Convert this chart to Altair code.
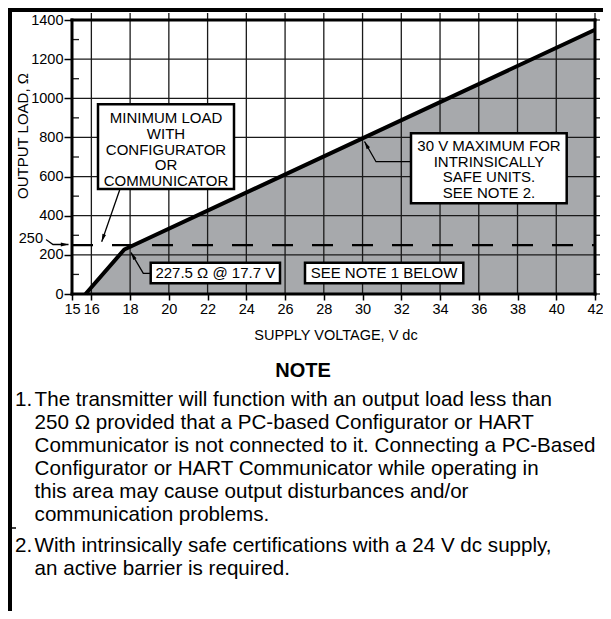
import math
import altair as alt
import pandas as pd

# ---------------- data ----------------
VOLTAGE = [15.7, 17.7, 42.0]          # V dc, corners of the operating-region boundary
LOAD = [0.0, 227.5, 1350.0]           # ohms
X_TICKS = [15, 16, 18, 20, 22, 24, 26, 28, 30, 32, 34, 36, 38, 40, 42]
Y_TICKS = [0, 200, 400, 600, 800, 1000, 1200, 1400]
Y_MINOR = [100, 300, 500, 700, 900, 1100, 1300]
MIN_LOAD = 250
X_TITLE = "SUPPLY VOLTAGE, V dc"
Y_TITLE = "OUTPUT LOAD, Ω"
LABEL_250 = "250"
BOX1_LINES = ["MINIMUM LOAD", "WITH", "CONFIGURATOR", "OR", "COMMUNICATOR"]
BOX2_LINES = ["30 V MAXIMUM FOR", "INTRINSICALLY", "SAFE UNITS.", " SEE NOTE 2."]
BOX3_LINES = ["227.5 Ω @ 17.7 V"]
BOX4_LINES = ["SEE NOTE 1 BELOW"]
NOTE_HEAD = "NOTE"
NOTE1_NUM = "1."
NOTE1_LINES = [
    "The transmitter will function with an output load less than",
    "250 Ω provided that a PC-based Configurator or HART",
    "Communicator is not connected to it. Connecting a PC-Based",
    "Configurator or HART Communicator while operating in",
    "this area may cause output disturbances and/or",
    "communication problems.",
]
NOTE2_NUM = "2."
NOTE2_LINES = [
    "With intrinsically safe certifications with a 24 V dc supply,",
    "an active barrier is required.",
]

# ---------------- layout ----------------
W, H = 523, 274
LEFT, TOP = 72, 20          # page position of the plot origin
X0, X1 = 15, 42
Y0, Y1 = 0, 1400
FONT = "Liberation Sans"
GRID = "#1a1a1a"
FILL = "#a7a9ac"


def dx(px):
    return X0 + (px - LEFT) * (X1 - X0) / W


def dy(py):
    return Y0 + (TOP + H - py) * (Y1 - Y0) / H


XS = alt.Scale(domain=[X0, X1], nice=False, zero=False)
YS = alt.Scale(domain=[Y0, Y1], nice=False, zero=False)
X_AXIS = alt.Axis(values=X_TICKS, title=None, domain=False, grid=False,
                  tickSize=6, tickWidth=1.5, tickColor="black",
                  labelFont=FONT, labelFontSize=14.5, labelColor="black",
                  labelPadding=2, labelFlush=False, labelOverlap=False)
Y_AXIS = alt.Axis(values=Y_TICKS, title=None, domain=False, grid=False,
                  format="d", tickSize=8, tickWidth=1.5, tickColor="black",
                  labelFont=FONT, labelFontSize=14.5, labelColor="black",
                  labelPadding=1, labelOverlap=False)


def X(f):
    return alt.X(f, type="quantitative", scale=XS, axis=X_AXIS)


def Y(f):
    return alt.Y(f, type="quantitative", scale=YS, axis=Y_AXIS)


def seg_layer(rows, **kw):
    df = pd.DataFrame(rows, columns=["x", "y", "x2", "y2"])
    return alt.Chart(df).mark_rule(**kw).encode(
        x=X("x"), y=Y("y"), x2=alt.X2("x2"), y2=alt.Y2("y2"))


def text_layer(rows, **kw):
    df = pd.DataFrame(rows, columns=["t", "x", "y"])
    base = dict(font=FONT, color="black")
    base.update(kw)
    return alt.Chart(df).mark_text(**base).encode(
        x=X("x"), y=Y("y"), text="t:N")


# ---------------- operating region ----------------
curve = pd.DataFrame({"v": VOLTAGE, "r": LOAD, "base": [Y0] * len(VOLTAGE)})
area = alt.Chart(curve).mark_area(color=FILL, opacity=1).encode(
    x=X("v"), y=Y("r"), y2=alt.Y2("base"))
line = alt.Chart(curve).mark_line(color="black", strokeWidth=4,
                                  strokeJoin="round").encode(x=X("v"), y=Y("r"))

# ---------------- grid / ticks ----------------
ext_top = 7 * (Y1 - Y0) / H
ext_r = 5 * (X1 - X0) / W
ext_l = 7 * (X1 - X0) / W
grid_rows = []
for v in X_TICKS[1:]:
    lo = Y0 if v < X1 else Y1
    grid_rows.append((v, lo, v, Y1 + ext_top))
for r in Y_TICKS:
    lo = X0 if Y0 < r < Y1 else X1
    grid_rows.append((lo, r, X1 + ext_r, r))
for r in Y_MINOR:
    grid_rows.append((X1, r, X1 + ext_r, r))
    grid_rows.append((X0, r, X0 + ext_l, r))
grid = seg_layer(grid_rows, color=GRID, strokeWidth=1.3)

dashed = seg_layer([(X0, MIN_LOAD, X1, MIN_LOAD)], color="black",
                   strokeWidth=2.2, strokeDash=[21, 19])

frame = seg_layer([(X0, Y0, X1, Y0), (X0, Y1, X1, Y1),
                   (X0, Y0, X0, Y1), (X1, Y0, X1, Y1)],
                  color="black", strokeWidth=3, strokeCap="square")

# outer page border (top and left) and the small row divider stub
border = seg_layer([(dx(8), dy(10), dx(640), dy(10)),
                    (dx(10), dy(8), dx(10), dy(640))],
                   color="black", strokeWidth=4)
stub = seg_layer([(dx(10), dy(528), dx(16), dy(528))], color="black",
                 strokeWidth=1.5)

# ---------------- annotation boxes ----------------
boxes_px = [(98, 104.3, 234, 189), (411, 133.3, 566.7, 203.3),
            (150.7, 262.7, 280, 283.3), (305, 262.7, 463.3, 283.3)]
box_rows = [(dx(a), dy(b), dx(c), dy(d)) for a, b, c, d in boxes_px]
boxes = alt.Chart(pd.DataFrame(box_rows, columns=["x", "y", "x2", "y2"])).mark_rect(
    fill="white", stroke="black", strokeWidth=2.5).encode(
    x=X("x"), y=Y("y"), x2=alt.X2("x2"), y2=alt.Y2("y2"))

box_text_rows = []
for lines, cx, first, step in [(BOX1_LINES, 166, 123.3, 15.6),
                               (BOX2_LINES, 489, 151.0, 15.6),
                               (BOX3_LINES, 215.3, 278.3, 0),
                               (BOX4_LINES, 384, 278.3, 0)]:
    for i, t in enumerate(lines):
        box_text_rows.append((t, dx(cx), dy(first + i * step)))
box_text = text_layer(box_text_rows, fontSize=15, align="center",
                      baseline="alphabetic")

# ---------------- leaders with arrowheads ----------------
leaders_px = [
    [(120, 189), (101.7, 241.7)],
    [(46, 239.5), (53, 244.5), (68.5, 244.5)],
    [(150.7, 273.3), (143.3, 273.3), (131, 252.5)],
    [(411, 161.7), (376, 161.7), (364.5, 141.5)],
]
lead_rows, head_rows = [], []
for k, pts in enumerate(leaders_px):
    for j, (px, py) in enumerate(pts):
        lead_rows.append((k, j, dx(px), dy(py)))
    (ax, ay), (bx, by) = pts[-2], pts[-1]
    ang = math.degrees(math.atan2(bx - ax, -(by - ay))) % 360
    head_rows.append((dx(bx), dy(by), ang))
leaders = alt.Chart(pd.DataFrame(lead_rows, columns=["id", "o", "x", "y"])).mark_line(
    color="black", strokeWidth=1.3).encode(
    x=X("x"), y=Y("y"), detail="id:N", order="o:Q")
heads = alt.Chart(pd.DataFrame(head_rows, columns=["x", "y", "a"])).mark_point(
    shape="M0,0L0.55,2.2L-0.55,2.2Z", filled=True, color="black", opacity=1,
    size=49, strokeWidth=0).encode(
    x=X("x"), y=Y("y"), angle=alt.Angle("a:Q", scale=None))

# ---------------- titles and notes ----------------
lab250 = text_layer([(LABEL_250, dx(43), dy(243))], fontSize=14.5,
                    align="right", baseline="alphabetic")
ytitle = text_layer([(Y_TITLE, dx(22.5), dy(136))], fontSize=15, angle=270,
                    align="center", baseline="middle")
xtitle = text_layer([(X_TITLE, dx(336), dy(340))], fontSize=14.5,
                    align="center", baseline="alphabetic")
nhead = text_layer([(NOTE_HEAD, dx(303), dy(377))], fontSize=20,
                   fontWeight="bold", align="center", baseline="alphabetic")

NOTE_SIZE = 20.6
STEP = 23
num_rows = [(NOTE1_NUM, dx(15), dy(406)), (NOTE2_NUM, dx(15), dy(552))]
body_rows = [(t, dx(34.6), dy(406 + i * STEP)) for i, t in enumerate(NOTE1_LINES)]
body_rows += [(t, dx(34.6), dy(552 + i * STEP)) for i, t in enumerate(NOTE2_LINES)]
nums = text_layer(num_rows, fontSize=NOTE_SIZE, align="left", baseline="alphabetic")
body = text_layer(body_rows, fontSize=NOTE_SIZE, align="left", baseline="alphabetic")

chart = alt.layer(
    area, grid, dashed, line, frame, border, stub, boxes, box_text,
    leaders, heads, lab250, ytitle, xtitle, nhead, nums, body,
).properties(
    width=W, height=H,
    padding={"left": LEFT - 8, "top": TOP - 8, "right": 8, "bottom": 317},
    autosize=alt.AutoSizeParams(type="none"),
    background="white",
).configure_view(stroke=None)

chart.save("out.html", embed_options={"renderer": "svg", "actions": False})
